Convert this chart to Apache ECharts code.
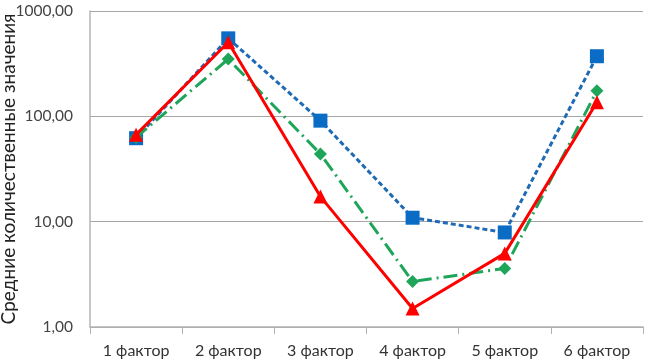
<!DOCTYPE html>
<html>
<head>
<meta charset="utf-8">
<script src="https://cdn.jsdelivr.net/npm/echarts@6/dist/echarts.min.js"></script>
<style>
  html, body { margin: 0; padding: 0; background: #fff; }
  #chart { width: 651px; height: 364px; }
</style>
</head>
<body>
<div id="chart"></div>
<script>
// категории и значения (логарифмическая шкала)
var categories = ['1 фактор', '2 фактор', '3 фактор', '4 фактор', '5 фактор', '6 фактор'];
var blueValues = [62, 550, 91, 10.9, 7.9, 372];
var greenValues = [63, 350, 44, 2.7, 3.6, 175];
var redValues = [67, 505, 17.3, 1.5, 5.0, 136];

var chart = echarts.init(document.getElementById('chart'));
chart.setOption({
  animation: false,
  textStyle: { fontFamily: 'Lato' },
  grid: { left: 90, right: 8, top: 11, bottom: 37, containLabel: false, outerBoundsMode: 'none' },
  xAxis: {
    type: 'category',
    data: categories,
    boundaryGap: true,
    axisLine: { lineStyle: { color: '#b3b3b3', width: 1.5 } },
    axisTick: { show: true, length: 7, lineStyle: { color: '#b3b3b3' } },
    axisLabel: { color: '#333', fontSize: 16, margin: 16 }
  },
  yAxis: {
    type: 'log',
    logBase: 10,
    min: 1,
    max: 1000,
    name: 'Средние количественные значения',
    nameLocation: 'middle',
    nameGap: 72,
    nameMoveOverlap: false,
    nameTextStyle: { color: '#222', fontSize: 19 },
    axisLine: { show: true, lineStyle: { color: '#b3b3b3', width: 1.5 } },
    axisTick: { show: false },
    axisLabel: {
      color: '#444',
      fontSize: 15.5,
      margin: 17,
      formatter: function (v) { return v.toFixed(2).replace('.', ','); }
    },
    splitLine: { lineStyle: { color: '#a6a6a6', width: 1.2 } }
  },
  series: [
    {
      type: 'line',
      data: blueValues,
      symbol: 'rect',
      symbolSize: 14,
      itemStyle: { color: '#0a6cc4' },
      lineStyle: { color: '#1f6ab5', width: 3, type: [5, 3] },
      z: 2
    },
    {
      type: 'line',
      data: greenValues,
      symbol: 'diamond',
      symbolSize: 13,
      itemStyle: { color: '#1ea55a' },
      lineStyle: { color: '#1ea55a', width: 3, type: [14, 5, 2, 5] },
      z: 3
    },
    {
      type: 'line',
      data: redValues,
      symbol: 'triangle',
      symbolSize: 14,
      itemStyle: { color: '#ff0000' },
      lineStyle: { color: '#ff0000', width: 3 },
      z: 4
    }
  ]
});
</script>
</body>
</html>
